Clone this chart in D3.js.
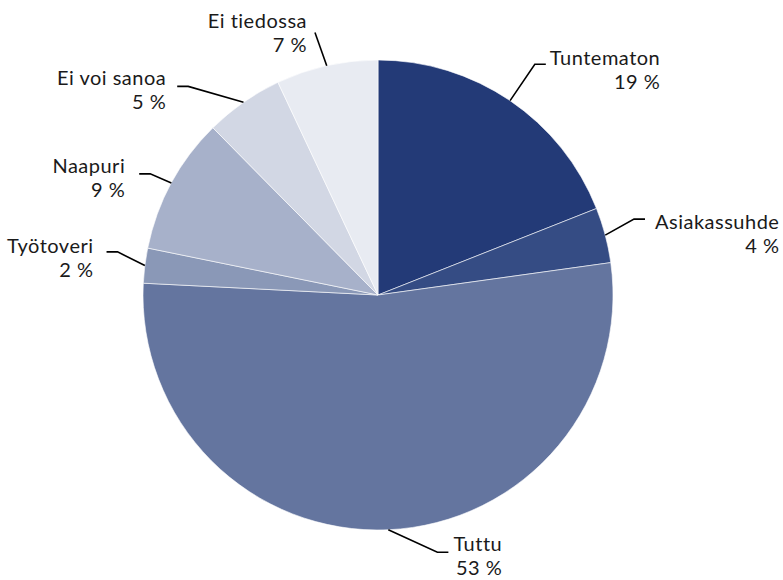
<!DOCTYPE html>
<html>
<head>
<meta charset="utf-8">
<script src="https://cdn.jsdelivr.net/npm/d3@7"></script>
<style>
  body { margin: 0; background: #fff; }
  text { font-family: Lato, "Open Sans", sans-serif; font-size: 20px; letter-spacing: 0.5px;
         font-variant-ligatures: none; fill: #1a1a1a; }
</style>
</head>
<body>
<div id="chart"></div>
<script>
// slices, clockwise from 12 o'clock
const categories = ["Tuntematon", "Asiakassuhde", "Tuttu", "Työtoveri", "Naapuri", "Ei voi sanoa", "Ei tiedossa"];
const values = [19.0, 3.8, 53.0, 2.4, 9.4, 5.4, 7.0];
const colors = ["#233a77", "#354c84", "#64759f", "#8a98b7", "#a7b1ca", "#d2d7e4", "#e8ebf2"];

// where each leader line bends (degrees clockwise from top, px from centre), and text tweaks
const labelAngle = [34.2, 73.5, 167, 279.4, 298, 317.7, 346.5];
const labelRadius = [279, 267, 264, 264, 258, 282, 270];
const labelDy = [1, 10, -1, 1, -1, -1, 0];
const labelGap = [4, 10, 5, 13, 14, 11, 0];

const width = 783, height = 580;
const cx = 378, cy = 295, r = 235;
const tail = 11, lineH = 24;

const svg = d3.select("#chart").append("svg")
    .attr("width", width)
    .attr("height", height);

const pie = d3.pie().sort(null).value(d => d)(values);
const arc = d3.arc().innerRadius(0).outerRadius(r);

const g = svg.append("g").attr("transform", `translate(${cx},${cy})`);

g.selectAll("path.slice")
    .data(pie)
    .join("path")
    .attr("class", "slice")
    .attr("d", arc)
    .attr("fill", (d, i) => colors[i])
    .attr("stroke", "#fff")
    .attr("stroke-width", 0.6);

const polar = (deg, rad) => {
    const a = deg * Math.PI / 180;
    return [rad * Math.sin(a), -rad * Math.cos(a)];
};

pie.forEach((d, i) => {
    const mid = (d.startAngle + d.endAngle) / 2 * 180 / Math.PI;
    const start = polar(mid, r);
    const elbow = polar(labelAngle[i], labelRadius[i]);
    const right = elbow[0] > 0;
    const lbl = g.append("g");

    let pts, baseY;
    if (i == 6) {
        // top label sits above and left of its leader, no tail
        pts = [start, elbow];
        baseY = elbow[1] - 4;
    } else {
        const tip = [elbow[0] + (right ? tail : -tail), elbow[1]];
        pts = [start, elbow, tip];
        baseY = elbow[1] + labelDy[i];
    }

    lbl.append("path")
        .attr("d", d3.line()(pts))
        .attr("fill", "none")
        .attr("stroke", "#000")
        .attr("stroke-width", 1.6);

    const t1 = lbl.append("text").text(categories[i]).attr("y", baseY);
    const w1 = t1.node().getComputedTextLength();
    const t2 = lbl.append("text").text(Math.round(values[i]) + " %").attr("y", baseY + lineH);
    const w2 = t2.node().getComputedTextLength();
    const blockW = Math.max(w1, w2);

    let x1;
    if (i == 6) x1 = elbow[0] - 8;
    else if (right) x1 = elbow[0] + tail + labelGap[i] + blockW;
    else x1 = elbow[0] - tail - labelGap[i];

    t1.attr("x", x1).attr("text-anchor", "end");
    t2.attr("x", x1).attr("text-anchor", "end");
});
</script>
</body>
</html>
